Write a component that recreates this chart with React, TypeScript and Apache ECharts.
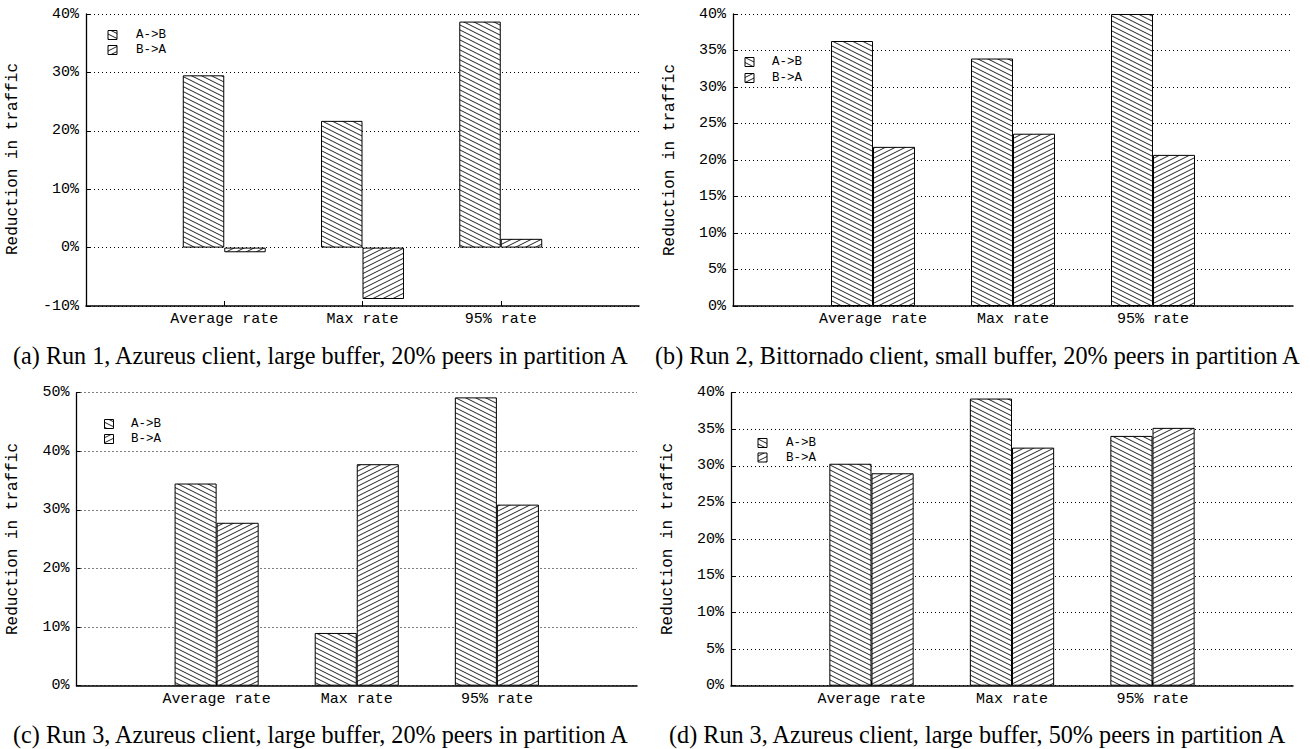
import { useEffect, useRef } from "react";
import * as echarts from "echarts";

// Category slots: the empty ends pad the axis so the three groups sit at 1/4, 2/4, 3/4.
const categories = ["", "Average rate", "Max rate", "95% rate", ""];
const seriesNames = ["A->B", "B->A"];

// (a) Run 1, Azureus, large buffer, 20% in A
const run1AtoB = [29.5, 21.7, 38.7];
const run1BtoA = [-0.8, -8.8, 1.5];
// (b) Run 2, Bittornado, small buffer, 20% in A
const run2AtoB = [36.3, 33.9, 40.0];
const run2BtoA = [21.8, 23.6, 20.7];
// (c) Run 3, Azureus, large buffer, 20% in A
const run3p20AtoB = [34.5, 9.0, 49.2];
const run3p20BtoA = [27.8, 37.8, 30.9];
// (d) Run 3, Azureus, large buffer, 50% in A
const run3p50AtoB = [30.3, 39.2, 34.1];
const run3p50BtoA = [29.0, 32.5, 35.2];

// y ranges [min, max, step]
const yRangeA = [-10, 40, 10];
const yRangeB = [0, 40, 5];
const yRangeC = [0, 50, 10];
const yRangeD = [0, 40, 5];

const captions = [
  "(a) Run 1, Azureus client, large buffer, 20% peers in partition A",
  "(b) Run 2, Bittornado client, small buffer, 20% peers in partition A",
  "(c) Run 3, Azureus client, large buffer, 20% peers in partition A",
  "(d) Run 3, Azureus client, large buffer, 50% peers in partition A",
];
const yTitle = "Reduction in traffic";

const MONO = '"Liberation Mono", "DejaVu Sans Mono", monospace';
const SERIF = '"Liberation Serif", "Times New Roman", serif';

// Layout of the four panels
const panels = [
  { ab: run1AtoB, ba: run1BtoA, range: yRangeA, grid: { left: 86, top: 14, width: 553, height: 292 },
    title: [13, 159], legend: { box: 108, text: 136, rows: [35, 50] }, caption: [13, 355] },
  { ab: run2AtoB, ba: run2BtoA, range: yRangeB, grid: { left: 733, top: 14, width: 560, height: 292 },
    title: [670, 160], legend: { box: 745, text: 772, rows: [62, 78] }, caption: [655, 355] },
  { ab: run3p20AtoB, ba: run3p20BtoA, range: yRangeC, grid: { left: 76.5, top: 392.7, width: 560.5, height: 293 },
    title: [13, 539], legend: { box: 104.5, text: 131, rows: [424, 439] }, caption: [13, 734] },
  { ab: run3p50AtoB, ba: run3p50BtoA, range: yRangeD, grid: { left: 731, top: 392.7, width: 562, height: 293 },
    title: [668, 539], legend: { box: 758, text: 786, rows: [443, 457.5] }, caption: [669, 734] },
];

// Diagonal line hatch tile; dir 1 = "\\", dir -1 = "/"
function hatch(dir: number) {
  const w = 10;
  const h = 5;
  const c = document.createElement("canvas");
  c.width = w;
  c.height = h;
  const ctx = c.getContext("2d")!;
  ctx.fillStyle = "#fff";
  ctx.fillRect(0, 0, w, h);
  ctx.strokeStyle = "#222";
  ctx.lineWidth = 1;
  for (const off of [-h, 0, h]) {
    ctx.beginPath();
    if (dir === 1) {
      ctx.moveTo(-2, -1 + off);
      ctx.lineTo(w + 2, h + 1 + off);
    } else {
      ctx.moveTo(-2, h + 1 + off);
      ctx.lineTo(w + 2, -1 + off);
    }
    ctx.stroke();
  }
  return { image: c.toDataURL(), repeat: "repeat", imageWidth: w, imageHeight: h };
}

export default function App() {
  const ref = useRef<HTMLDivElement>(null);

  useEffect(() => {
    document.body.style.margin = "0";
    const chart = echarts.init(ref.current!, null, { renderer: "svg" });
    const patAB = hatch(1);
    const patBA = hatch(-1);
    const pats = [patAB, patBA];

    const graphic: any[] = [];
    panels.forEach((p, i) => {
      graphic.push({
        type: "text",
        x: p.title[0],
        y: p.title[1],
        rotation: Math.PI / 2,
        style: { text: yTitle, font: `16px ${MONO}`, fill: "#000", align: "center", verticalAlign: "middle" },
      });
      seriesNames.forEach((n, k) => {
        graphic.push({
          type: "rect",
          shape: { x: p.legend.box, y: p.legend.rows[k] - 4.5, width: 9, height: 9 },
          style: { fill: pats[k], stroke: "#000", lineWidth: 1 },
        });
        graphic.push({
          type: "text",
          x: p.legend.text,
          y: p.legend.rows[k],
          style: { text: n, font: `12.5px ${MONO}`, fill: "#000", align: "left", verticalAlign: "middle" },
        });
      });
      graphic.push({
        type: "text",
        x: p.caption[0],
        y: p.caption[1],
        style: { text: captions[i], font: `24.2px ${SERIF}`, fill: "#000", align: "left", verticalAlign: "middle" },
      });
    });

    const option: any = {
      animation: false,
      backgroundColor: "#fff",
      grid: panels.map((p) => ({ ...p.grid, containLabel: false })),
      xAxis: panels.map((_, i) => ({
        type: "category",
        gridIndex: i,
        data: categories,
        boundaryGap: false,
        axisLine: { onZero: false, lineStyle: { color: "#000", width: 1.5 } },
        axisTick: {
          inside: true,
          length: 5,
          interval: (idx: number) => idx > 0 && idx < categories.length - 1,
          lineStyle: { color: "#000" },
        },
        axisLabel: { interval: 0, fontFamily: MONO, fontSize: 15, color: "#000", margin: 6 },
        splitLine: { show: false },
      })),
      yAxis: panels.map((p, i) => ({
        type: "value",
        gridIndex: i,
        min: p.range[0],
        max: p.range[1],
        interval: p.range[2],
        axisLine: { show: true, lineStyle: { color: "#000", width: 1.3 } },
        axisTick: { show: true, inside: true, length: 4, lineStyle: { color: "#000" } },
        axisLabel: { formatter: "{value}%", fontFamily: MONO, fontSize: 15, color: "#000", margin: 7 },
        splitLine: { show: true, lineStyle: { color: "#000", type: [1, 3], width: 1 } },
      })),
      series: panels.flatMap((p, i) => [
        {
          type: "bar",
          name: seriesNames[0],
          xAxisIndex: i,
          yAxisIndex: i,
          data: ["-", ...p.ab, "-"],
          barWidth: "30%",
          barGap: "0%",
          silent: true,
          itemStyle: { color: patAB, borderColor: "#000", borderWidth: 1 },
        },
        {
          type: "bar",
          name: seriesNames[1],
          xAxisIndex: i,
          yAxisIndex: i,
          data: ["-", ...p.ba, "-"],
          barWidth: "30%",
          barGap: "0%",
          silent: true,
          itemStyle: { color: patBA, borderColor: "#000", borderWidth: 1 },
        },
      ]),
      graphic,
    };
    chart.setOption(option);
    return () => chart.dispose();
  }, []);

  return <div ref={ref} style={{ width: 1310, height: 749 }} />;
}
